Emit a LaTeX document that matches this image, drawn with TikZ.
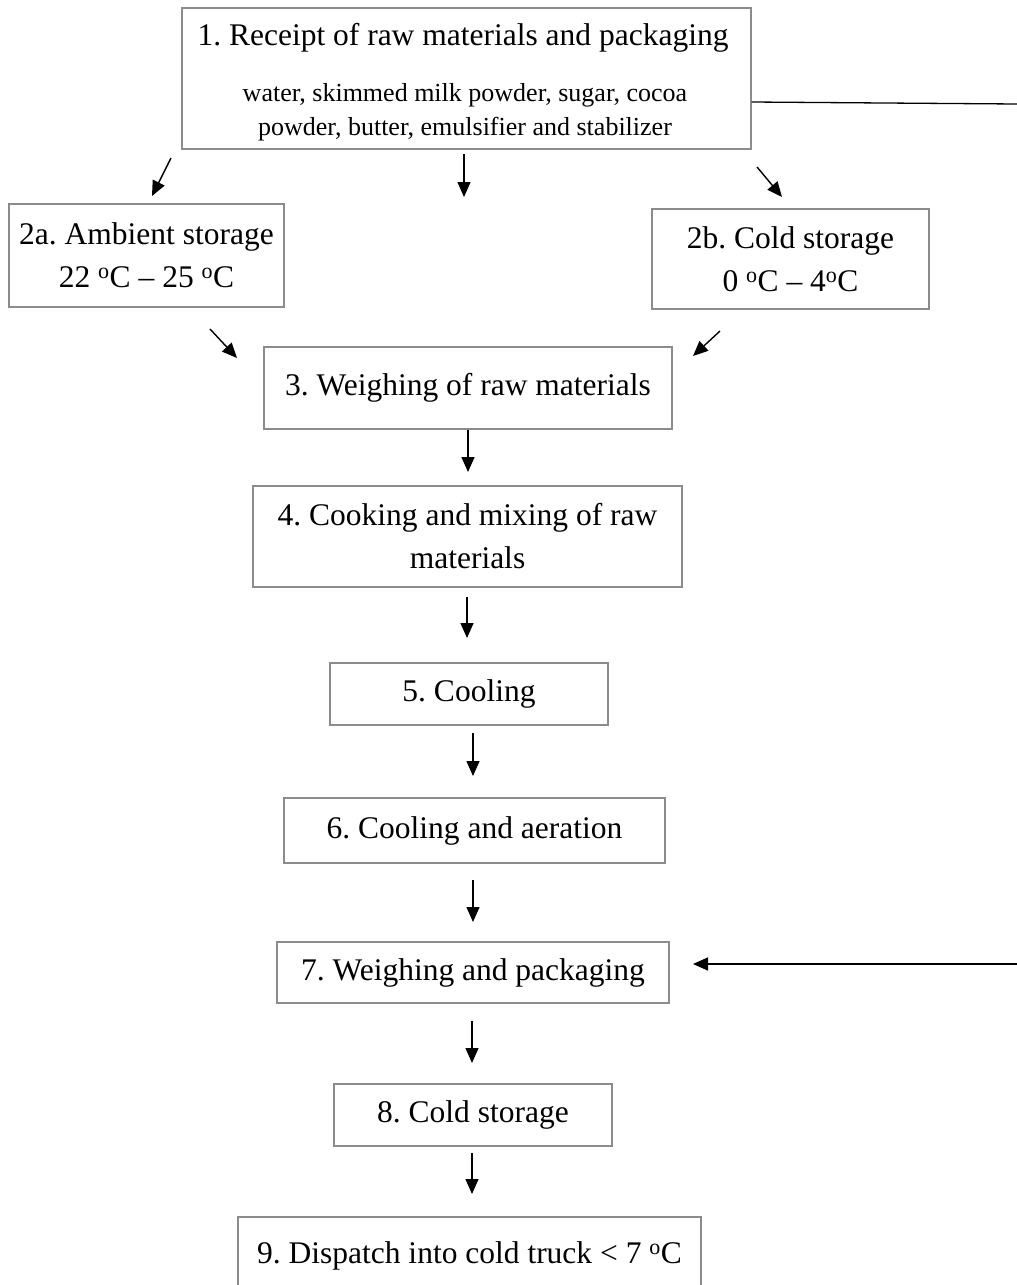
\documentclass[tikz,border=0pt]{standalone}
\usepackage{fontspec}
\setmainfont{Liberation Serif}
\usetikzlibrary{arrows.meta}
\definecolor{boxgray}{gray}{0.55}
\frenchspacing
\begin{document}
\begin{tikzpicture}[x=1pt,y=-1pt,
  box/.style={draw=boxgray, line width=1.3pt, inner sep=0pt, align=center,
    font=\fontsize{31.5}{43}\selectfont},
  txt/.style={inner sep=0pt, align=center},
  arr/.style={line width=1.4pt, -{Triangle[length=15pt,width=13pt]}},
  feed/.style={line width=1.3pt}]
\useasboundingbox (0,0) rectangle (1017,1285);
\clip (0,0) rectangle (1017,1285);

% process boxes
\node[box, minimum width=569pt, minimum height=141pt] (b1) at (466.5,78.5) {};
\node[txt, font=\fontsize{31.5}{43}\selectfont] (b1t) at (463,38) {1. Receipt of raw materials and packaging};
\node[txt, font=\fontsize{26}{34}\selectfont] (b1s) at (465,112)
  {water, skimmed milk powder, sugar, cocoa\\powder, butter, emulsifier and stabilizer};

\node[box, minimum width=275pt, minimum height=103pt] (b2a) at (146.5,255.5)
  {2a. Ambient storage\\22 \textsuperscript{o}C -- 25 \textsuperscript{o}C};
\node[box, minimum width=277pt, minimum height=100pt] (b2b) at (790.5,259)
  {2b. Cold storage\\0 \textsuperscript{o}C -- 4\textsuperscript{o}C};
\node[box, minimum width=408pt, minimum height=82pt] (b3) at (468,388) {3. Weighing of raw materials};
\node[box, minimum width=429pt, minimum height=101pt] (b4) at (467.5,536.5)
  {4. Cooking and mixing of raw\\materials};
\node[box, minimum width=278pt, minimum height=62pt] (b5) at (469,694) {5. Cooling};
\node[box, minimum width=381pt, minimum height=65pt] (b6) at (474.5,830.5) {6. Cooling and aeration};
\node[box, minimum width=392pt, minimum height=61pt] (b7) at (473,972.5) {7. Weighing and packaging};
\node[box, minimum width=278pt, minimum height=62pt] (b8) at (473,1115) {8. Cold storage};
\node[box, minimum width=463pt, minimum height=78pt] (b9) at (469.5,1256)
  {9. Dispatch into cold truck < 7 \textsuperscript{o}C};

% arrow end points
\coordinate (a1l) at (171,158);  \coordinate (a1lt) at (152,196);
\coordinate (a1m) at (464,154);  \coordinate (a1mt) at (464,197);
\coordinate (a1r) at (757,167);  \coordinate (a1rt) at (782,197);
\coordinate (a2a) at (210,329);  \coordinate (a2at) at (237,358);
\coordinate (a2b) at (720,331);  \coordinate (a2bt) at (693,356);
\coordinate (a3)  at (468,430);  \coordinate (a3t)  at (468,472);
\coordinate (a4)  at (467,597);  \coordinate (a4t)  at (467,638);
\coordinate (a5)  at (473,733);  \coordinate (a5t)  at (473,776);
\coordinate (a6)  at (473,880);  \coordinate (a6t)  at (473,922);
\coordinate (a7)  at (472,1021); \coordinate (a7t)  at (472,1063);
\coordinate (a8)  at (472,1153); \coordinate (a8t)  at (472,1194);
\coordinate (fe)  at (1017,104);
\coordinate (fs)  at (1017,964); \coordinate (ft)   at (693,964);

% flow arrows
\draw[arr] (a1l) -- (a1lt);
\draw[arr] (a1m) -- (a1mt);
\draw[arr] (a1r) -- (a1rt);
\draw[arr] (a2a) -- (a2at);
\draw[arr] (a2b) -- (a2bt);
\draw[arr] (a3) -- (a3t);
\draw[arr] (a4) -- (a4t);
\draw[arr] (a5) -- (a5t);
\draw[arr] (a6) -- (a6t);
\draw[arr] (a7) -- (a7t);
\draw[arr] (a8) -- (a8t);

% packaging feed line to step 7
\draw[feed] (b1.east |- 0,102) -- (fe);
\draw[arr] (fs) -- (ft);
\end{tikzpicture}
\end{document}
